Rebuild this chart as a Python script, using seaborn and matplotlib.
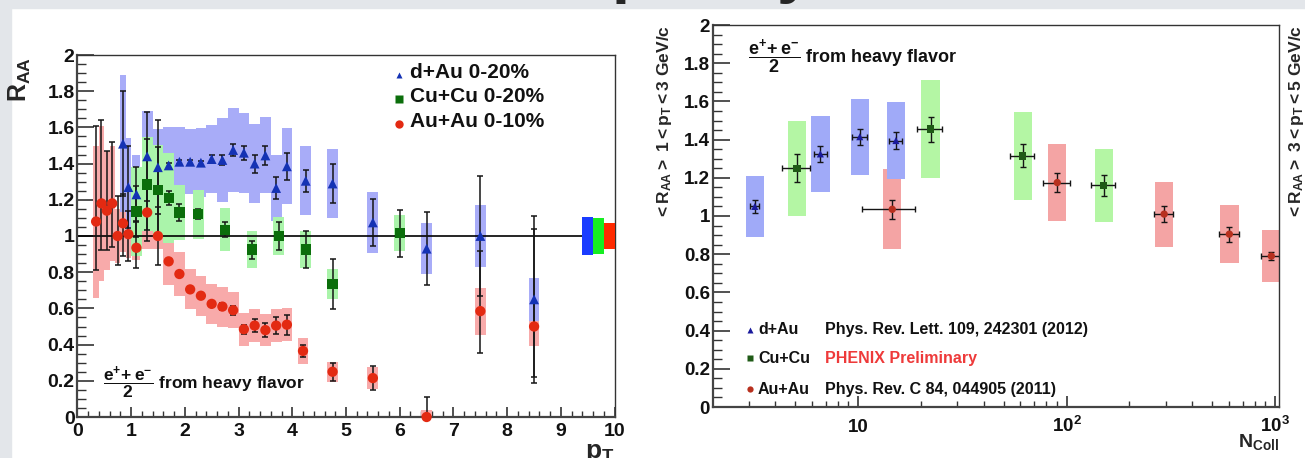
import numpy as np
import matplotlib
matplotlib.use("Agg")
import matplotlib.pyplot as plt
import matplotlib.transforms as mtransforms
import seaborn as sns
from matplotlib.ticker import MultipleLocator, FuncFormatter, LogLocator, NullFormatter, FixedLocator
from matplotlib.patches import Rectangle

# -----------------------------------------
# Left panel: R_AA vs pT
# -----------------------------------------
dau_pt = [0.85, 0.95, 1.1, 1.3, 1.5, 1.7, 1.9, 2.1, 2.3, 2.5, 2.7, 2.9, 3.1, 3.3, 3.5, 3.7, 3.9,
          4.25, 4.75, 5.5, 6.5, 7.5, 8.5]
dau_raa = [1.51, 1.27, 1.23, 1.44, 1.38, 1.39, 1.41, 1.41, 1.405, 1.425, 1.42, 1.475, 1.46, 1.40,
           1.445, 1.265, 1.385, 1.305, 1.29, 1.075, 0.93, 1.0, 0.65]
dau_stat = [0.29, 0.225, 0.15, 0.245, 0.26, 0.012, 0.012, 0.012, 0.012, 0.02, 0.025, 0.035, 0.04,
            0.05, 0.055, 0.06, 0.075, 0.06, 0.11, 0.13, 0.2, 0.33, 0.46]
dau_syst = [0.38, 0.27, 0.22, 0.25, 0.21, 0.21, 0.19, 0.18, 0.19, 0.19, 0.23, 0.23, 0.22, 0.22,
            0.21, 0.18, 0.21, 0.19, 0.19, 0.17, 0.14, 0.17, 0.12]

cucu_pt = [1.1, 1.3, 1.5, 1.7, 1.9, 2.25, 2.75, 3.25, 3.75, 4.25, 4.75, 6.0]
cucu_raa = [1.135, 1.285, 1.255, 1.21, 1.13, 1.12, 1.035, 0.925, 1.0, 0.925, 0.735, 1.015]
cucu_stat = [0.14, 0.25, 0.236, 0.04, 0.045, 0.028, 0.04, 0.05, 0.075, 0.1, 0.14, 0.13]
cucu_syst = [0.245, 0.26, 0.25, 0.25, 0.15, 0.135, 0.117, 0.103, 0.106, 0.1, 0.083, 0.1]

auau_pt = [0.35, 0.45, 0.55, 0.65, 0.75, 0.85, 0.95, 1.1, 1.3, 1.5, 1.7, 1.9, 2.1, 2.3, 2.5, 2.7,
           2.9, 3.1, 3.3, 3.5, 3.7, 3.9, 4.2, 4.75, 5.5, 6.5, 7.5, 8.5]
auau_raa = [1.08, 1.18, 1.14, 1.18, 1.0, 1.07, 1.01, 0.935, 1.13, 1.0, 0.86, 0.79, 0.705, 0.67,
            0.625, 0.61, 0.59, 0.485, 0.505, 0.48, 0.505, 0.51, 0.365, 0.25, 0.215, 0.0, 0.585, 0.5]
auau_stat_lo = [0.27, 0.26, 0.22, 0.24, 0.16, 0.18, 0.15, 0.11, 0.16, 0.16, 0.012, 0.01, 0.01,
                0.012, 0.012, 0.02, 0.025, 0.025, 0.035, 0.04, 0.045, 0.055, 0.035, 0.05, 0.065,
                0.0, 0.23, 0.28]
auau_stat_hi = [0.53, 0.46, 0.33, 0.34, 0.22, 0.16, 0.13, 0.15, 0.16, 0.16, 0.012, 0.01, 0.01,
                0.012, 0.012, 0.02, 0.025, 0.025, 0.035, 0.04, 0.045, 0.055, 0.035, 0.05, 0.065,
                0.11, 0.33, 0.54]
auau_syst = [0.42, 0.43, 0.33, 0.32, 0.15, 0.16, 0.13, 0.07, 0.2, 0.07, 0.13, 0.12, 0.11, 0.11,
             0.11, 0.11, 0.1, 0.09, 0.09, 0.09, 0.09, 0.09, 0.07, 0.055, 0.06, 0.037, 0.13, 0.11]

# global normalisation uncertainties (d+Au, Cu+Cu, Au+Au)
norm_pt = [9.5, 9.7, 9.9]
norm_err = [0.105, 0.10, 0.072]

# -----------------------------------------
# Right panel: <R_AA> vs Ncoll
# -----------------------------------------
dau_ncoll = [3.2, 6.6, 10.2, 15.2]
dau_ncoll_err = [0.17, 0.48, 0.83, 1.05]
dau_mean = [1.05, 1.325, 1.415, 1.395]
dau_mean_stat = [0.033, 0.042, 0.042, 0.043]
dau_mean_syst = [0.16, 0.2, 0.2, 0.2]

cucu_ncoll = [5.1, 22.3, 61.7, 151]
cucu_ncoll_err = [0.77, 3.1, 8.0, 19.6]
cucu_mean = [1.25, 1.455, 1.315, 1.16]
cucu_mean_stat = [0.072, 0.065, 0.06, 0.054]
cucu_mean_syst = [0.25, 0.255, 0.23, 0.19]

auau_ncoll = [14.6, 90.3, 294, 604, 960]
auau_ncoll_err = [4.1, 13.5, 30, 67, 100]
auau_mean = [1.035, 1.175, 1.01, 0.905, 0.79]
auau_mean_stat = [0.05, 0.05, 0.044, 0.04, 0.022]
auau_mean_syst = [0.21, 0.2, 0.17, 0.15, 0.136]

legend_labels = ["d+Au 0-20%", "Cu+Cu 0-20%", "Au+Au 0-10%"]
ref_systems = ["d+Au", "Cu+Cu", "Au+Au"]
ref_texts = ["Phys. Rev. Lett. 109, 242301 (2012)", "PHENIX Preliminary",
             "Phys. Rev. C 84, 044905 (2011)"]

# -----------------------------------------
# Style
# -----------------------------------------
sns.set_theme(style="ticks")
plt.rcParams['font.family'] = ['Liberation Sans', 'DejaVu Sans']
plt.rcParams['font.weight'] = 'bold'
plt.rcParams['mathtext.fontset'] = 'custom'
plt.rcParams['mathtext.rm'] = 'Liberation Sans:bold'
plt.rcParams['mathtext.bf'] = 'Liberation Sans:bold'
plt.rcParams['mathtext.it'] = 'Liberation Sans:bold'
plt.rcParams['mathtext.sf'] = 'Liberation Sans:bold'
plt.rcParams['mathtext.default'] = 'bf'

W, H = 1305, 458
fig = plt.figure(figsize=(W / 100, H / 100), dpi=100)
fig.patch.set_facecolor('white')
fig.add_artist(Rectangle((0, 0), 11 / W, 1, transform=fig.transFigure,
                         color='#e3e6ea', zorder=-10))
fig.add_artist(Rectangle((0, 1 - 8 / H), 1, 8 / H, transform=fig.transFigure,
                         color='#e3e6ea', zorder=-10))
# bottoms of the slide title letters (only the descenders reach into the picture)
fig.text(612 / W, 1.0 + 9 / H, "p", fontsize=47, fontweight='bold', va='baseline', ha='left')
fig.text(776 / W, 1.0 + 9 / H, "y", fontsize=47, fontweight='bold', va='baseline', ha='left')

ax1 = fig.add_axes([77.3 / W, 1 - 417 / H, 537.4 / W, 362 / H])
ax2 = fig.add_axes([712.7 / W, 1 - 407 / H, 566.3 / W, 382 / H])

blue_box, green_box, red_box = '#a8acf8', '#aaf4aa', '#f8aaaa'
blue_m, green_m, red_m = '#1432b4', '#0b6e0b', '#e32a12'


def half_widths(x, maxhw):
    x = np.asarray(x, dtype=float)
    gaps = np.diff(x)
    left = np.r_[2 * maxhw, gaps] / 2
    right = np.r_[gaps, 2 * maxhw] / 2
    return np.minimum(np.minimum(left, right), maxhw)


def syst_boxes(ax, x, y, s, color, z):
    x, y, s = np.asarray(x), np.asarray(y), np.asarray(s)
    hw = half_widths(x, 0.1)
    ax.bar(x - hw, 2 * s, bottom=y - s, width=2 * hw, align='edge',
           color=color, linewidth=0, zorder=z)


# -----------------------------------------
# Left panel
# -----------------------------------------
syst_boxes(ax1, auau_pt, auau_raa, auau_syst, red_box, 1.0)
syst_boxes(ax1, dau_pt, dau_raa, dau_syst, blue_box, 1.1)
syst_boxes(ax1, cucu_pt, cucu_raa, cucu_syst, green_box, 1.2)

ax1.axhline(1.0, color='black', lw=1.2, zorder=2)

ax1.bar(np.asarray(norm_pt) - 0.1, 2 * np.asarray(norm_err), bottom=1 - np.asarray(norm_err),
        width=0.2, align='edge', color=['#1a3cff', '#16ee22', '#ff2a00'], linewidth=0, zorder=3)

ebar = dict(fmt='none', ecolor='#151515', elinewidth=1.1, capsize=2.5, capthick=1.1, zorder=3)
ax1.errorbar(auau_pt, auau_raa, yerr=[auau_stat_lo, auau_stat_hi], **ebar)
ax1.errorbar(dau_pt, dau_raa, yerr=dau_stat, **ebar)
ax1.errorbar(cucu_pt, cucu_raa, yerr=cucu_stat, **ebar)

sns.scatterplot(x=auau_pt, y=auau_raa, marker='o', s=55, color=red_m, edgecolor='none',
                ax=ax1, zorder=4, clip_on=False, legend=False)
sns.scatterplot(x=cucu_pt, y=cucu_raa, marker='s', s=55, color=green_m, edgecolor='none',
                ax=ax1, zorder=4, legend=False)
sns.scatterplot(x=dau_pt, y=dau_raa, marker='^', s=50, color=blue_m, edgecolor='none',
                ax=ax1, zorder=4, legend=False)

ax1.set_xlim(0, 10)
ax1.set_ylim(0, 2)
ax1.xaxis.set_major_locator(MultipleLocator(1))
ax1.xaxis.set_minor_locator(MultipleLocator(0.2))
ax1.yaxis.set_major_locator(MultipleLocator(0.2))
ax1.yaxis.set_minor_locator(MultipleLocator(0.05))
ax1.yaxis.set_major_formatter(FuncFormatter(lambda v, p: f"{v:g}"))
ax1.tick_params(which='both', direction='in', top=False, right=False, colors='#333333',
                labelcolor='#111111')
ax1.tick_params(axis='y', which='major', length=12.5, width=1.2, labelsize=14, pad=2)
ax1.tick_params(axis='y', which='minor', length=6.3, width=1.0)
ax1.tick_params(axis='x', which='major', length=7.5, width=1.2, labelsize=14, pad=4)
ax1.tick_params(axis='x', which='minor', length=4.3, width=1.0)
ax1.set_xlabel("")
ax1.set_ylabel("")

# legend
for i, (lab, mk, c, ms) in enumerate(zip(legend_labels, ['^', 's', 'o'],
                                         [blue_m, green_m, red_m], [5, 6, 6])):
    yy = [0.951, 0.885, 0.816][i]
    ax1.plot([0.598], [yy - 0.006], marker=mk, ms=ms, color=c, mec='none',
             transform=ax1.transAxes, zorder=5)
    ax1.text(0.619, yy, lab, transform=ax1.transAxes, fontsize=15, fontweight='bold',
             ha='left', va='center', color='#111111')

ax1.text(0.048, 0.094, r"$\dfrac{e^{+}\!+e^{-}}{2}$" + " from heavy flavor",
         transform=ax1.transAxes, fontsize=12.5, fontweight='bold', ha='left', va='center',
         color='#111111')

fig.text(20 / W, 1 - 57 / H, r"$R_{AA}$", rotation=90, fontsize=18, ha='center', va='top')
fig.text(614.7 / W, 1 - 441 / H, r"$p_{T}$", fontsize=19, ha='right', va='top')

# -----------------------------------------
# Right panel
# -----------------------------------------
ax2.set_xscale('log')
hw_log = 0.044


def log_boxes(ax, x, y, s, color, z):
    x, y, s = np.asarray(x, float), np.asarray(y), np.asarray(s)
    left = x * 10 ** (-hw_log)
    right = x * 10 ** hw_log
    ax.bar(left, 2 * s, bottom=y - s, width=right - left, align='edge',
           color=color, linewidth=0, zorder=z)


log_boxes(ax2, auau_ncoll, auau_mean, auau_mean_syst, '#f4a4a4', 1.0)
log_boxes(ax2, dau_ncoll, dau_mean, dau_mean_syst, '#a0aaf8', 1.1)
log_boxes(ax2, cucu_ncoll, cucu_mean, cucu_mean_syst, '#b4f6a4', 1.2)

ebar2 = dict(fmt='none', ecolor='#151515', elinewidth=1.0, capsize=2, capthick=1.0, zorder=3)
ax2.errorbar(auau_ncoll, auau_mean, xerr=auau_ncoll_err, yerr=auau_mean_stat, **ebar2)
ax2.errorbar(dau_ncoll, dau_mean, xerr=dau_ncoll_err, yerr=dau_mean_stat, **ebar2)
ax2.errorbar(cucu_ncoll, cucu_mean, xerr=cucu_ncoll_err, yerr=cucu_mean_stat, **ebar2)

sns.scatterplot(x=auau_ncoll, y=auau_mean, marker='o', s=28, color='#b8301e', edgecolor='none',
                ax=ax2, zorder=4, legend=False)
sns.scatterplot(x=cucu_ncoll, y=cucu_mean, marker='s', s=28, color='#1f5a16', edgecolor='none',
                ax=ax2, zorder=4, legend=False)
sns.scatterplot(x=dau_ncoll, y=dau_mean, marker='^', s=26, color='#1a1a9c', edgecolor='none',
                ax=ax2, zorder=4, legend=False)

ax2.set_xlim(2.01, 1045)
ax2.set_ylim(0, 2)
ax2.xaxis.set_major_locator(FixedLocator([10, 100, 1000]))
ax2.xaxis.set_minor_locator(LogLocator(base=10, subs=np.arange(2, 10)))
ax2.xaxis.set_major_formatter(NullFormatter())
ax2.xaxis.set_minor_formatter(NullFormatter())
ax2.yaxis.set_major_locator(MultipleLocator(0.2))
ax2.yaxis.set_minor_locator(MultipleLocator(0.05))
ax2.yaxis.set_major_formatter(FuncFormatter(lambda v, p: f"{v:g}"))
ax2.tick_params(which='both', direction='in', top=False, right=False, colors='#333333',
                labelcolor='#111111')
ax2.tick_params(axis='y', which='major', length=12.5, width=1.2, labelsize=13.5, pad=2)
ax2.tick_params(axis='y', which='minor', length=6.3, width=1.0)
ax2.tick_params(axis='x', which='major', length=8, width=1.2)
ax2.tick_params(axis='x', which='minor', length=4.3, width=1.0)
ax2.set_xlabel("")
ax2.set_ylabel("")

xlab_tr = mtransforms.blended_transform_factory(ax2.transData, ax2.transAxes)
for v, lab in zip([10, 100, 1000], ["10", r"$10^{2}$", r"$10^{3}$"]):
    ax2.text(v, -0.0646, lab, transform=xlab_tr, fontsize=13.5, ha='center', va='baseline',
             color='#111111')

# legend + references
for i, (sysname, ref, mk, c) in enumerate(zip(ref_systems, ref_texts, ['^', 's', 'o'],
                                               ['#1a1a9c', '#1f5a16', '#b8301e'])):
    yy = [0.2016, 0.128, 0.047][i]
    ax2.plot([0.0659], [yy], marker=mk, ms=4.5, color=c, mec='none',
             transform=ax2.transAxes, zorder=5)
    ax2.text(0.080, yy, sysname, transform=ax2.transAxes, fontsize=11.5, ha='left',
             va='center', color='#111111')
    ax2.text(0.198, yy, ref, transform=ax2.transAxes, fontsize=11.5, ha='left', va='center',
             color='#ee3a3a' if i == 1 else '#111111')

ax2.text(0.0623, 0.916, r"$\dfrac{e^{+}\!+e^{-}}{2}$" + " from heavy flavor",
         transform=ax2.transAxes, fontsize=13, fontweight='bold', ha='left', va='center',
         color='#111111')

fig.text(665 / W, 1 - 25 / H, r"$<R_{AA}>\ 1<p_{T}<3\ GeV/c$", rotation=90, fontsize=12.5,
         ha='center', va='top')
fig.text(1297 / W, 1 - 25 / H, r"$<R_{AA}>\ 3<p_{T}<5\ GeV/c$", rotation=90, fontsize=12.5,
         ha='center', va='top')
fig.text(1279 / W, 1 - 432 / H, r"$N_{Coll}$", fontsize=14, ha='right', va='top')

for ax in (ax1, ax2):
    for side in ['left', 'bottom']:
        ax.spines[side].set_color('#444444')
        ax.spines[side].set_linewidth(1.6)
    for side in ['top', 'right']:
        ax.spines[side].set_color('#333333')
        ax.spines[side].set_linewidth(1.0)

fig.savefig("out.png", dpi=100)
